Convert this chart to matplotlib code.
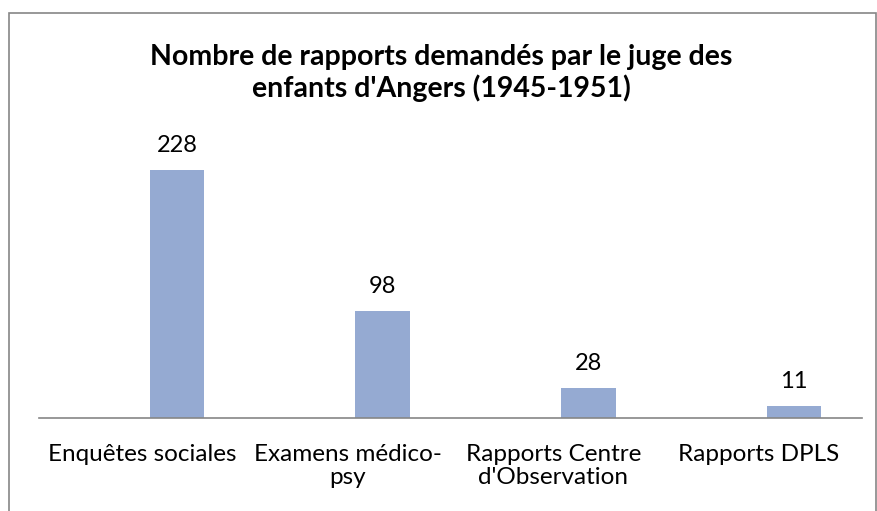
import matplotlib
matplotlib.use('Agg')
import matplotlib.pyplot as plt
from matplotlib.patches import Rectangle

categories = ['Enquêtes sociales', 'Examens médico-\npsy', 'Rapports Centre\nd\'Observation', 'Rapports DPLS']
values = [228, 98, 28, 11]
title = "Nombre de rapports demandés par le juge des\nenfants d'Angers (1945-1951)"

plt.rcParams['font.family'] = ['Lato', 'DejaVu Sans']

W, H = 878, 511
fig = plt.figure(figsize=(W / 100, H / 100), dpi=100)

# cadre du graphique
fig.patches.append(Rectangle((9.5 / W, -0.05), (876 - 9.5) / W, (H - 13) / H + 0.05,
                             transform=fig.transFigure, fill=False,
                             edgecolor='#868686', linewidth=1.2))

ax = fig.add_axes([39 / W, (H - 418) / H, 823 / W, (418 - 146) / H])
x = range(len(categories))
pos = [i + 0.17 for i in x]
ax.bar(pos, values, width=0.265, color='#95AAD2')
for p, v in zip(pos, values):
    ax.annotate(str(v), (p, v), xytext=(0, 10), textcoords='offset points',
                ha='center', va='bottom', fontsize=17)

ax.set_xlim(-0.5, 3.5)
ax.set_ylim(0, 250)
ax.set_xticks(list(x))
ax.set_xticklabels(categories, fontsize=17.5, linespacing=1.08)
ax.tick_params(axis='x', length=0, pad=19)
ax.set_yticks([])
for s in ['top', 'right', 'left']:
    ax.spines[s].set_visible(False)
ax.spines['bottom'].set_color('#868686')
ax.spines['bottom'].set_linewidth(1.2)

fig.text(441 / W, 1 - 73 / H, title, ha='center', va='center', fontsize=20.5,
         fontweight='bold', linespacing=1.2)

fig.savefig('out.png', dpi=100)
